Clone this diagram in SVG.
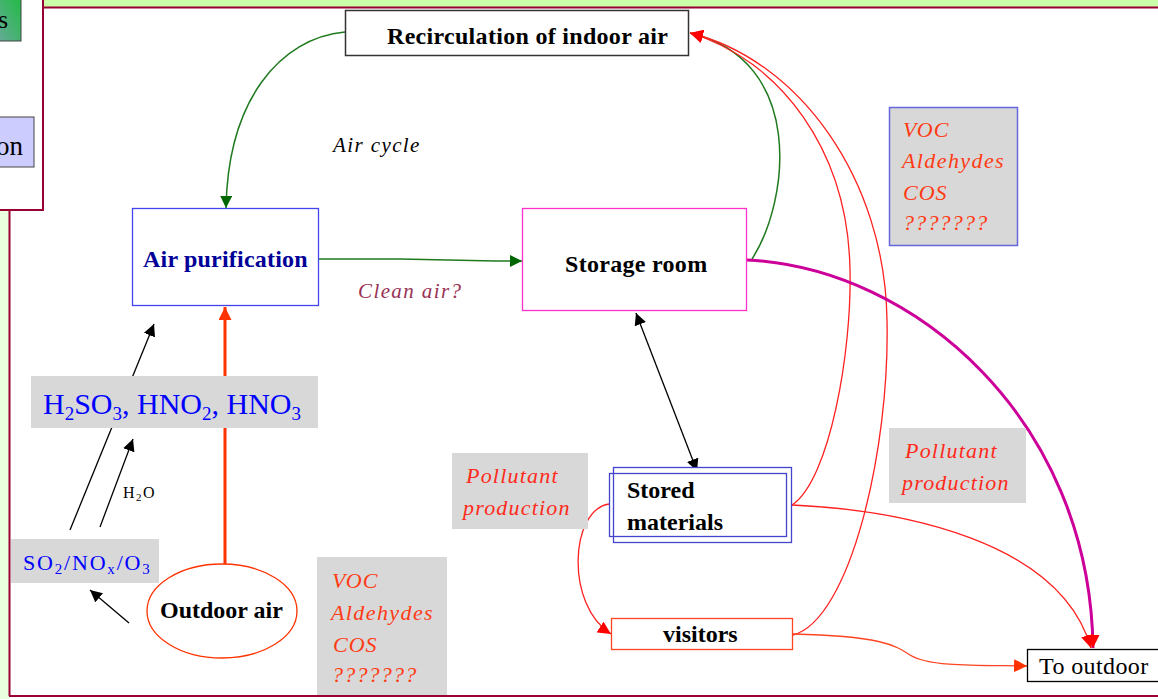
<svg xmlns="http://www.w3.org/2000/svg" width="1158" height="699" viewBox="0 0 1158 699">
<style>
.frame{stroke:#990033;stroke-width:2;fill:none}
.gray{fill:#d8d8d8}
.red{fill:#ff2a1a}
.orng{fill:#ff3b14}
.green{stroke:#1f7a1f;stroke-width:1.5;fill:none}
.redl{stroke:#ff2020;stroke-width:1.3;fill:none}
.blk{stroke:#000;stroke-width:1.3;fill:none}
</style>
<defs>
<marker id="ag" viewBox="0 0 12 12" refX="12" refY="6" markerWidth="12" markerHeight="12" markerUnits="userSpaceOnUse" orient="auto"><path d="M0,0 L12,6 L0,12 z" fill="#006600"/></marker>
<marker id="ar" viewBox="0 0 12 12" refX="12" refY="6" markerWidth="13" markerHeight="13" markerUnits="userSpaceOnUse" orient="auto"><path d="M0,0 L12,6 L0,12 z" fill="#ff0000"/></marker>
<marker id="ao" viewBox="0 0 12 12" refX="12" refY="6" markerWidth="13" markerHeight="13" markerUnits="userSpaceOnUse" orient="auto"><path d="M0,0 L12,6 L0,12 z" fill="#ff3300"/></marker>
<marker id="ak" viewBox="0 0 12 12" refX="12" refY="6" markerWidth="12" markerHeight="12" markerUnits="userSpaceOnUse" orient="auto-start-reverse"><path d="M0,0 L12,6 L0,12 z" fill="#000"/></marker>
<linearGradient id="gg" x1="1" y1="0" x2="0" y2="1"><stop offset="0" stop-color="#22bb44"/><stop offset="1" stop-color="#66aa99"/></linearGradient>
</defs>
<rect x="0" y="0" width="1158" height="699" fill="#ffffff"/>
<rect x="0" y="0" width="1158" height="7" fill="#ccffaa"/>
<rect x="0" y="180" width="9" height="519" fill="#eaffdd"/>
<line x1="0" y1="7.5" x2="1158" y2="7.5" class="frame"/>
<line x1="9.5" y1="200" x2="9.5" y2="696" class="frame"/>
<line x1="9" y1="696" x2="1158" y2="696" class="frame"/>
<g id="side-panel" font-family="Liberation Serif, serif">
<rect x="-2" y="-2" width="45" height="212" fill="#ffffff" stroke="#990033" stroke-width="2"/>
<rect x="-2" y="-2" width="23" height="43" fill="url(#gg)" stroke="#444" stroke-width="1"/>
<text x="-2" y="28" font-size="26" fill="#000">s</text>
<rect x="-2" y="117" width="36" height="50" fill="#ccccff" stroke="#444" stroke-width="1"/>
<text x="-4" y="155" font-size="27" fill="#000">on</text>
</g>
<g id="connectors">
<path class="green" d="M345,32 C280,38 228,100 226,208" marker-end="url(#ag)"/>
<path class="green" d="M319,259 L400,259 L495,261 L522,261" marker-end="url(#ag)"/>
<path class="green" d="M752,259 C790,200 805,60 690,33"/>
<path class="redl" d="M792,505 C830,480 852,350 850,270 C848,150 780,60 690,33" marker-end="url(#ar)"/>
<path class="redl" d="M793,635 C850,620 890,450 887,320 C885,180 800,60 690,33" marker-end="url(#ar)"/>
<path d="M747,260 C915,268 1090,420 1093,648" stroke="#cc0099" stroke-width="3" fill="none"/>
<path class="redl" d="M792,505 C900,510 1060,540 1091,648" marker-end="url(#ar)"/>
<path d="M1093,600 L1093,648" stroke="none" fill="none" marker-end="url(#ar)"/>
<path d="M793,634 C880,636 895,645 910,655 C930,668 990,665 1027,666" stroke="#ff4422" stroke-width="1.3" fill="none" marker-end="url(#ao)"/>
<path class="redl" d="M609,504 C570,510 565,605 611,634" marker-end="url(#ar)"/>
<path class="blk" d="M636,313 L697,471" marker-start="url(#ak)" marker-end="url(#ak)"/>
<path class="blk" d="M70,530 L154,324" marker-end="url(#ak)"/>
<path class="blk" d="M100,527 L133,439" marker-end="url(#ak)"/>
<path class="blk" d="M129,623 L90,590" marker-end="url(#ak)"/>
<path d="M225,564 L225,307" stroke="#ff3300" stroke-width="3" fill="none" marker-end="url(#ao)"/>
</g>
<g font-family="Liberation Serif, serif">
<g id="recirculation">
<rect x="345.5" y="10.5" width="343" height="45" fill="#fff" stroke="#333" stroke-width="1.5"/>
<text x="387" y="44" font-weight="bold" font-size="24" fill="#000" letter-spacing="0.3">Recirculation of indoor air</text>
</g>
<g id="air-purification">
<rect x="132.5" y="208.5" width="186" height="97" fill="#fff" stroke="#4444ee" stroke-width="1.3"/>
<text x="143" y="267" font-weight="bold" font-size="24" fill="#000099" letter-spacing="0.2">Air purification</text>
</g>
<g id="storage-room">
<rect x="522.5" y="208.5" width="224" height="102" fill="#fff" stroke="#ff33cc" stroke-width="1.3"/>
<text x="565" y="272" font-weight="bold" font-size="24" fill="#000" letter-spacing="0.3">Storage room</text>
</g>
<g id="stored-materials">
<rect x="613.5" y="467.5" width="178" height="75" fill="#fff" stroke="#4444cc" stroke-width="1.3"/>
<rect x="609.5" y="473.5" width="177" height="63" fill="none" stroke="#4444cc" stroke-width="1.3"/>
<text x="627" y="498" font-weight="bold" font-size="24" fill="#000">Stored</text>
<text x="627" y="530" font-weight="bold" font-size="24" fill="#000">materials</text>
</g>
<g id="visitors">
<rect x="611.5" y="618.5" width="181" height="31" fill="#fff" stroke="#ff4422" stroke-width="1.3"/>
<text x="663" y="642" font-weight="bold" font-size="24" fill="#000">visitors</text>
</g>
<g id="to-outdoor">
<rect x="1027.5" y="649.5" width="140" height="32" fill="#fff" stroke="#000" stroke-width="1.3"/>
<text x="1039" y="674" font-size="24" fill="#000" letter-spacing="0.4">To outdoor</text>
</g>
<g id="outdoor-air">
<ellipse cx="222" cy="611" rx="75" ry="47" fill="#fff" stroke="#ff3300" stroke-width="1.3"/>
<text x="160" y="618" font-weight="bold" font-size="24" fill="#000">Outdoor air</text>
</g>
<g id="acids">
<rect x="31" y="376" width="287" height="52" class="gray"/>
<text x="43" y="414" font-size="30" fill="#0000ff">H<tspan font-size="19" dy="6">2</tspan><tspan dy="-6">SO</tspan><tspan font-size="19" dy="6">3</tspan><tspan dy="-6">, HNO</tspan><tspan font-size="19" dy="6">2</tspan><tspan dy="-6">, HNO</tspan><tspan font-size="19" dy="6">3</tspan></text>
</g>
<g id="gases">
<rect x="11" y="539" width="148" height="44" class="gray"/>
<text x="23" y="570" font-size="22" fill="#0000ff" letter-spacing="1.8">SO<tspan font-size="15" dy="4">2</tspan><tspan dy="-4">/NO</tspan><tspan font-size="15" dy="4">x</tspan><tspan dy="-4">/O</tspan><tspan font-size="15" dy="4">3</tspan></text>
</g>
<g id="h2o-label">
<text x="123" y="498" font-size="16" fill="#000" letter-spacing="1.5">H<tspan font-size="11" dy="3">2</tspan><tspan dy="-3">O</tspan></text>
</g>
<g id="voc-bottom" font-style="italic" font-size="22">
<rect x="317" y="557" width="130" height="138" class="gray"/>
<text x="332" y="588" class="orng" letter-spacing="1">VOC</text>
<text x="331" y="620" class="orng" letter-spacing="1.4">Aldehydes</text>
<text x="333" y="652" class="orng" letter-spacing="1">COS</text>
<text x="332" y="682" class="orng" letter-spacing="1.2">???????</text>
</g>
<g id="voc-top" font-style="italic" font-size="22">
<rect x="889.5" y="107.5" width="128" height="138" class="gray" stroke="#6666dd" stroke-width="1.5"/>
<text x="903" y="137" class="orng" letter-spacing="1">VOC</text>
<text x="902" y="168" class="orng" letter-spacing="1.4">Aldehydes</text>
<text x="903" y="200" class="orng" letter-spacing="1">COS</text>
<text x="903" y="230" class="orng" letter-spacing="1.2">???????</text>
</g>
<g id="pollutant-left" font-style="italic" font-size="22">
<rect x="452" y="453" width="136" height="76" class="gray"/>
<text x="466" y="483" class="red" letter-spacing="1.2">Pollutant</text>
<text x="463" y="515" class="red" letter-spacing="1.2">production</text>
</g>
<g id="pollutant-right" font-style="italic" font-size="22">
<rect x="889" y="428" width="137" height="75" class="gray"/>
<text x="905" y="458" class="red" letter-spacing="1.2">Pollutant</text>
<text x="902" y="490" class="red" letter-spacing="1.2">production</text>
</g>
<g id="labels" font-style="italic" font-size="21">
<text x="333" y="152" fill="#000" letter-spacing="1.4">Air cycle</text>
<text x="358" y="298" fill="#993355" letter-spacing="1.4">Clean air?</text>
</g>
</g>
</svg>
